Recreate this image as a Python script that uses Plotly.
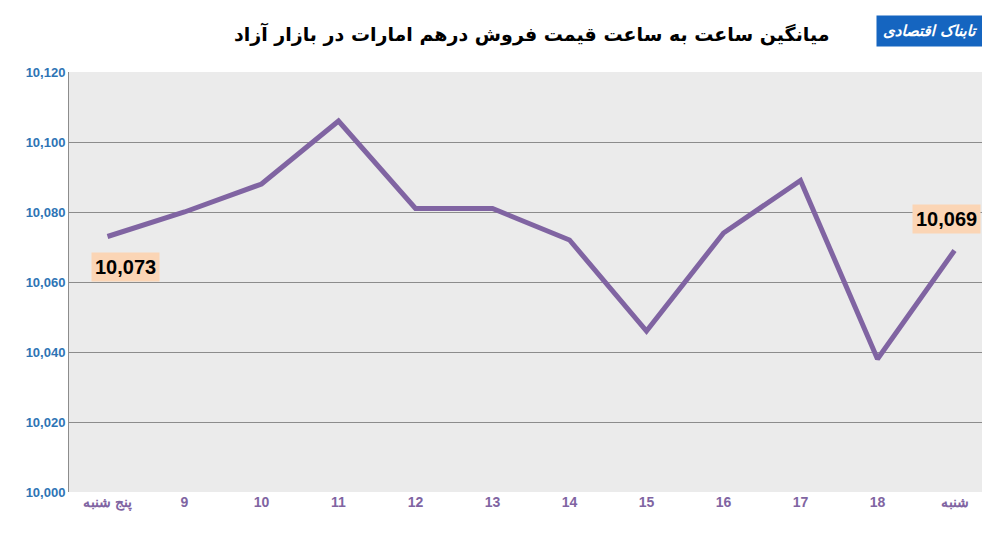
import plotly.graph_objects as go

# ── Data ──────────────────────────────────────────────
days = ['پنج شنبه', '9', '10', '11', '12', '13', '14', '15', '16', '17', '18', 'شنبه']
prices = [10073, 10080, 10088, 10106, 10081, 10081, 10072, 10046, 10074, 10089, 10038, 10069]
y_ticks = [10000, 10020, 10040, 10060, 10080, 10100, 10120]

PURPLE = '#8064A2'
BLUE = '#2E74B5'
PEACH = '#FBD5B5'

fig = go.Figure(go.Scatter(
    x=days, y=prices, mode='lines',
    line=dict(color=PURPLE, width=5),
    showlegend=False, hoverinfo='x+y'
))

# first / last value labels
for i, yshift in [(0, -30), (len(days) - 1, 32)]:
    fig.add_annotation(
        x=days[i], y=prices[i], text=f'<b>{prices[i]:,}</b>', showarrow=False,
        yshift=yshift, xshift=18 if i == 0 else -8,
        font=dict(family='Liberation Sans', size=20, color='black'),
        bgcolor=PEACH, borderpad=3
    )

fig.add_annotation(
    xref='paper', yref='paper', x=0.5, y=1.125,
    text='<b>میانگین ساعت به ساعت قیمت فروش درهم امارات در بازار آزاد</b>',
    showarrow=False, font=dict(family='DejaVu Sans', size=19, color='black')
)
fig.add_annotation(
    xref='paper', yref='paper', x=0.99, y=1.135, xanchor='right',
    text='<b><i>تابناک اقتصادی</i></b>', showarrow=False,
    font=dict(family='DejaVu Sans', size=15, color='white'),
    bgcolor='#1565C0', borderpad=6
)

fig.update_layout(
    width=990, height=533,
    paper_bgcolor='white', plot_bgcolor='#EBEBEB',
    margin=dict(l=61, r=5, t=64, b=49),
    xaxis=dict(
        showgrid=False, showline=False, ticks='',
        tickfont=dict(family='Liberation Sans', size=14, color=PURPLE, weight='bold'),
        range=[-0.5, len(days) - 0.5]
    ),
    yaxis=dict(
        range=[10000, 10120], tickvals=y_ticks, tickformat=',d',
        gridcolor='#8C8C8C', gridwidth=1, zeroline=False,
        showline=True, linecolor='#8C8C8C', automargin=False,
        tickfont=dict(family='Liberation Sans', size=13, color=BLUE, weight='bold')
    ),
)

fig.write_html('out.html')
